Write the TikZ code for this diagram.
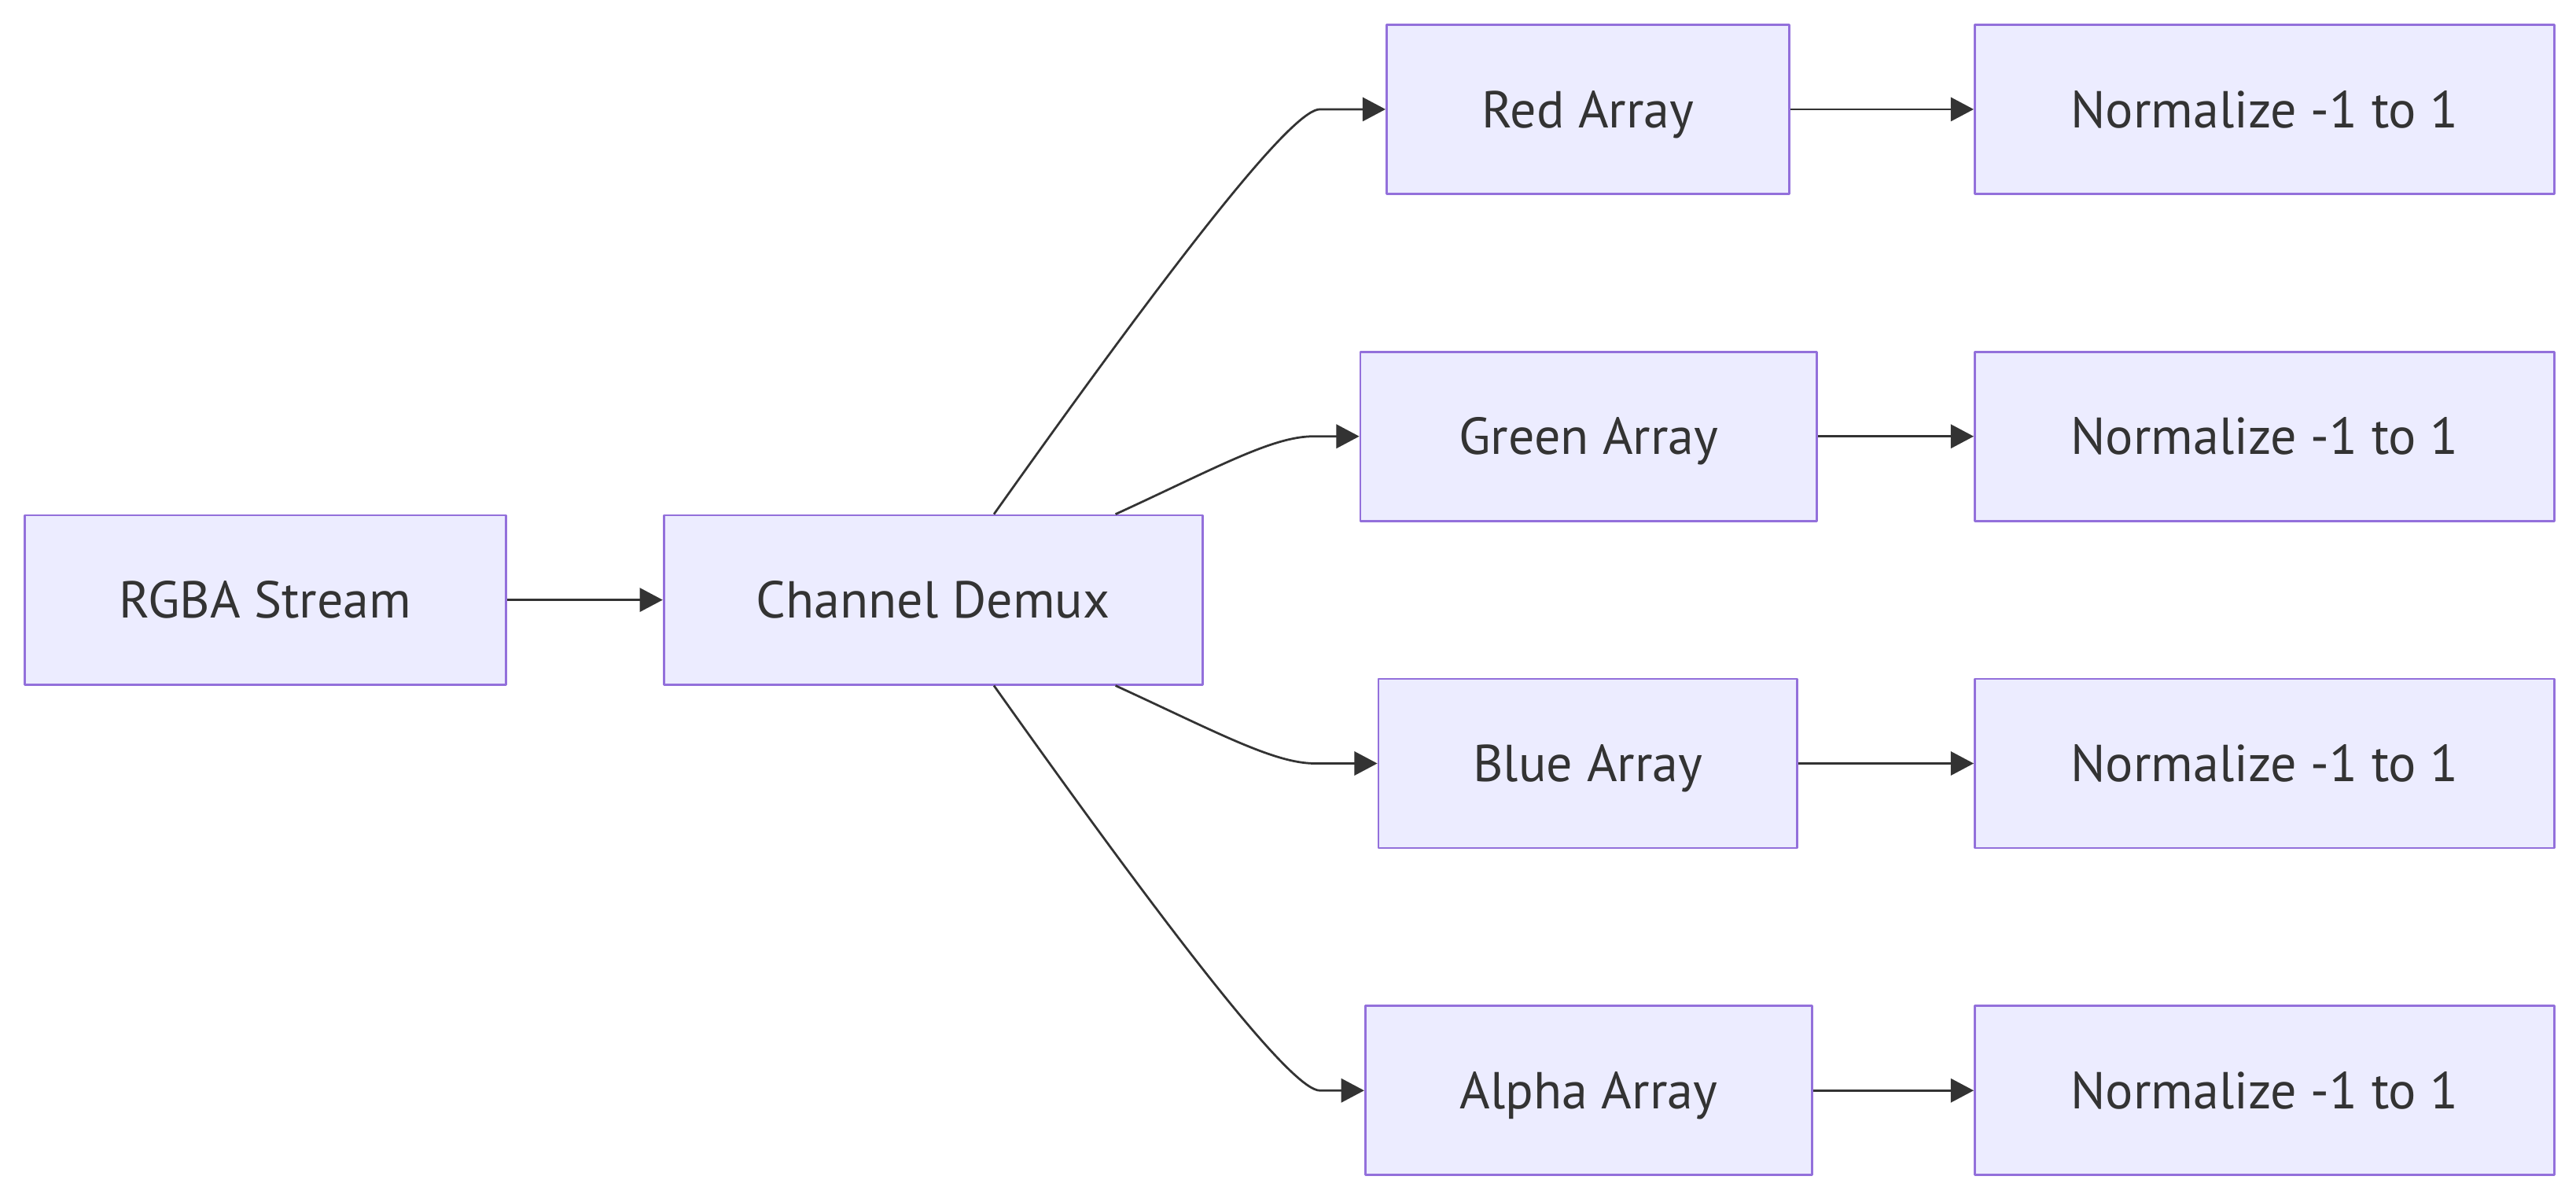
\documentclass[tikz,border=0pt]{standalone}
\usepackage{fontspec}
\setmainfont{PT Sans}
\usetikzlibrary{arrows.meta,calc}
\definecolor{boxfill}{HTML}{ECECFF}
\definecolor{boxline}{HTML}{9370DB}
\definecolor{ink}{HTML}{333333}

\begin{document}
\begin{tikzpicture}[x=0.02cm, y=-0.02cm, font=\fontsize{18}{22}\selectfont, line join=round, >={Triangle[length=2.8mm,width=2.9mm]}]
	\tikzset{
	box/.style={draw=boxline, fill=boxfill, line width=0.75pt, text=ink, minimum height=2.06cm, inner sep=0pt, text height=12.6pt, text depth=0pt},
	flow/.style={->, draw=ink, line width=0.75pt}
	}
	\useasboundingbox (0,0) rectangle (1568,731);
	\node[box, minimum width=5.86cm] (rgba) at (161.5,365) {RGBA Stream};
	\node[box, minimum width=6.56cm] (demux) at (568,365) {Channel Demux};
	\node[box, minimum width=4.9cm] (red) at (966.5,66.5) {Red Array};
	\node[box, minimum width=5.56cm] (green) at (967,265.5) {Green Array};
	\node[box, minimum width=5.1cm] (blue) at (966.5,464.5) {Blue Array};
	\node[box, minimum width=5.44cm] (alpha) at (967,663.5) {Alpha Array};
	\draw[flow] (rgba) -- (demux);
	\draw[flow] ($(demux.north)+(37,0)$) .. controls +(125,-176) and +(-15,0) .. ($(red.west)+(-40,0)$) -- (red);
	\draw[flow] ($(demux.north)+(111,0)$) .. controls +(61,-28) and +(-25,0) .. ($(green.west)+(-28,0)$) -- (green);
	\draw[flow] ($(demux.south)+(111,0)$) .. controls +(61,28) and +(-25,0) .. ($(blue.west)+(-38,0)$) -- (blue);
	\draw[flow] ($(demux.south)+(37,0)$) .. controls +(125,176) and +(-15,0) .. ($(alpha.west)+(-27,0)$) -- (alpha);
	\foreach \c/\y in {red/66.5,green/265.5,blue/464.5,alpha/663.5}{
	\node[box, minimum width=7.06cm] (norm\c) at (1378.5,\y) {Normalize -1 to 1};
	\draw[flow] (\c) -- (norm\c);
	}
\end{tikzpicture}
\end{document}
